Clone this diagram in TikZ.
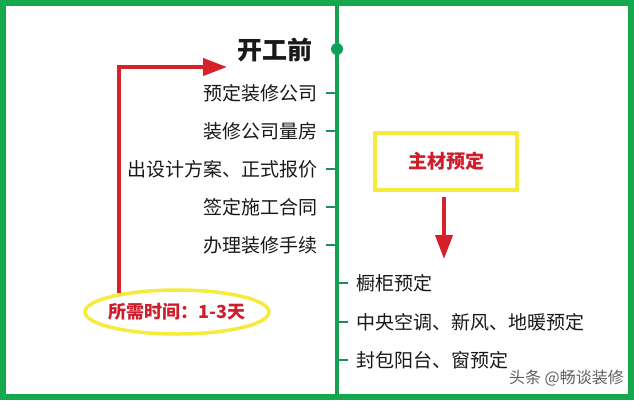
\documentclass[tikz,border=0pt]{standalone}
\usepackage{fontspec}
\setmainfont{Noto Sans CJK SC}
\usetikzlibrary{arrows.meta,shapes.geometric,calc}
\definecolor{framegreen}{RGB}{22,168,76}
\definecolor{spinegreen}{RGB}{20,162,82}
\definecolor{dotgreen}{RGB}{17,160,90}
\definecolor{tickgreen}{RGB}{30,140,95}
\definecolor{ink}{RGB}{25,25,25}
\definecolor{arrowred}{RGB}{215,32,42}
\definecolor{labelred}{RGB}{205,30,45}
\definecolor{hiyellow}{RGB}{245,235,60}
\definecolor{wmgray}{RGB}{95,95,95}
\begin{document}
\begin{tikzpicture}[x=1pt,y=-1pt,
  frame/.style={draw=framegreen,line width=6pt},
  spine/.style={draw=spinegreen,line width=3.5pt},
  dotnode/.style={circle,fill=dotgreen,minimum size=12pt,inner sep=0pt},
  titletext/.style={font=\fontsize{25}{30}\selectfont\bfseries,text=ink,inner sep=0pt},
  itemtext/.style={font=\fontsize{19}{23}\selectfont,text=ink,inner sep=0pt},
  tickline/.style={draw=tickgreen,line width=2pt},
  ybox/.style={draw=hiyellow,line width=4pt,fill=white,minimum width=142pt,minimum height=57pt,inner sep=0pt,
    font=\fontsize{19}{23}\selectfont\bfseries,text=labelred},
  yell/.style={ellipse,draw=hiyellow,line width=3.5pt,minimum width=184pt,minimum height=44pt,
    inner xsep=-6pt,inner ysep=0pt,
    font=\fontsize{18}{22}\selectfont\bfseries,text=labelred},
  redarrow/.style={draw=arrowred,line width=4pt,-{Triangle[length=24pt,width=17pt]}},
  wmtext/.style={font=\fontsize{16}{19}\selectfont,text=wmgray,inner sep=0pt}
]
\useasboundingbox (0,0) rectangle (634,400);
\fill[white] (0,0) rectangle (634,400);
\draw[frame] (3,3) rectangle (631,397);
\coordinate (top) at (337,3);
\coordinate (bot) at (337,397);
\draw[spine] (top) -- (bot);
\node[dotnode] (dot) at (337,49) {};
\node[titletext,anchor=east] (title) at (313,50) {开工前};
\node[itemtext,anchor=east] (l1) at (318,93) {预定装修公司};
\node[itemtext,anchor=east] (l2) at (318,131) {装修公司量房};
\node[itemtext,anchor=east] (l3) at (318,169) {出设计方案、正式报价};
\node[itemtext,anchor=east] (l4) at (318,207) {签定施工合同};
\node[itemtext,anchor=east] (l5) at (318,245) {办理装修手续};
\foreach \n in {l1,l2,l3,l4,l5}{
  \draw[tickline,shorten >=2pt] ([xshift=8pt]\n.east) -- (\n.east -| top);
}
\node[itemtext,anchor=west] (r1) at (356,283) {橱柜预定};
\node[itemtext,anchor=west] (r2) at (356,322) {中央空调、新风、地暖预定};
\node[itemtext,anchor=west] (r3) at (356,360) {封包阳台、窗预定};
\foreach \n in {r1,r2,r3}{
  \draw[tickline,shorten <=2pt] (\n.west -| top) -- ([xshift=-8pt]\n.west);
}
\node[ybox] (box) at (446,161.5) {主材预定};
\coordinate (downend) at (444,259);
\draw[redarrow,shorten <=5pt] (box.south -| downend) -- (downend);
\node[yell] (time) at (177,312) {所需时间：1-3天};
\coordinate (tip) at (227,67);
\draw[redarrow] (time.162.6) |- (tip);
\node[wmtext,anchor=east] (wm) at (624,378) {头条 @畅谈装修};
\end{tikzpicture}
\end{document}
